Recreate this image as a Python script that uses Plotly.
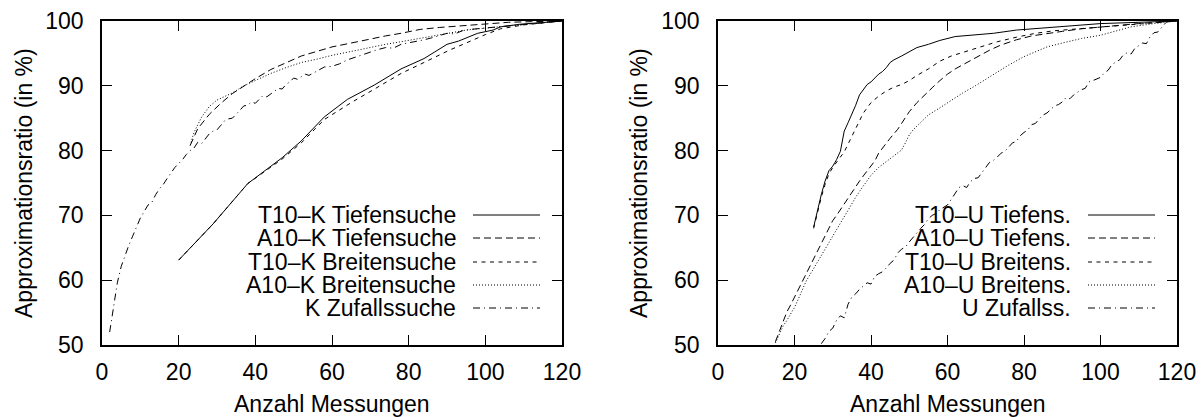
import plotly.graph_objects as go

# ---------------- data: left panel (K) ----------------
k_t10_tief_x = [20, 29, 38, 47, 52, 58, 64, 71, 78, 84, 90, 93, 98, 102, 104, 109, 120]
k_t10_tief_y = [63.1, 68.7, 74.9, 78.9, 81.5, 85.2, 87.9, 90.1, 92.6, 94.2, 96.4, 96.9, 98.1, 98.6, 99.1, 99.5, 100.0]

k_a10_tief_x = [23, 25, 28, 31, 34, 37, 40, 44, 48, 52, 56, 60, 65, 69, 74, 78, 83, 88, 94, 100, 106, 112, 120]
k_a10_tief_y = [80.8, 83.4, 85.6, 87.3, 88.8, 90.0, 91.1, 92.5, 93.6, 94.6, 95.3, 96.0, 96.6, 97.1, 97.7, 98.1, 98.7, 99.0, 99.3, 99.6, 99.8, 99.9, 100.0]

k_t10_breit_x = [20, 29, 38, 47, 52, 58, 65, 71, 78, 84, 91, 95, 100, 104, 110, 120]
k_t10_breit_y = [63.1, 68.7, 74.9, 78.7, 81.2, 84.8, 87.4, 89.5, 91.9, 93.6, 95.6, 96.6, 97.9, 98.8, 99.4, 100.0]

k_a10_breit_x = [23, 24, 26, 28, 30, 32, 34, 37, 40, 44, 48, 52, 56, 60, 65, 69, 74, 78, 83, 87, 91, 95, 100, 104, 110, 120]
k_a10_breit_y = [80.8, 82.8, 85.2, 86.8, 87.8, 88.4, 88.9, 90.0, 90.8, 91.9, 92.8, 93.6, 94.1, 94.7, 95.3, 95.8, 96.4, 96.8, 97.3, 97.8, 98.2, 98.6, 98.9, 99.1, 99.5, 100.0]

k_zuf_x = [2, 3, 4, 5, 6, 7, 8, 9, 10, 11, 12, 13, 14, 15, 16, 17, 18, 19, 20, 21, 22, 23, 24, 25,
           26, 27, 28, 29, 30, 31, 32, 33, 34, 35, 36, 37, 38, 39, 40, 41, 42, 43, 44, 45, 46, 47,
           48, 49, 50, 51, 52, 53, 54, 56, 58, 60, 62, 64, 66, 68, 70, 72, 74, 76, 78, 80, 82, 84,
           86, 88, 90, 92, 94, 96, 98, 100, 104, 108, 112, 116, 120]
k_zuf_y = [52.0, 56.2, 59.6, 62.1, 63.9, 65.4, 66.8, 68.3, 69.6, 70.6, 71.6, 72.0, 73.2, 74.1, 74.8,
           75.7, 76.6, 77.4, 78.0, 78.6, 79.4, 80.0, 80.4, 81.3, 81.1, 81.9, 82.6, 83.0, 83.2, 83.9,
           84.6, 84.9, 85.0, 85.6, 86.2, 86.9, 87.0, 87.5, 87.3, 87.9, 88.5, 88.3, 88.7, 89.1, 89.6,
           89.5, 90.2, 90.6, 91.2, 91.0, 91.4, 91.8, 91.6, 92.2, 92.9, 93.0, 93.4, 94.0, 94.4, 94.8,
           95.3, 95.6, 95.9, 95.8, 96.4, 96.6, 96.9, 97.1, 97.4, 97.8, 98.1, 98.0, 98.5, 98.7, 98.8,
           99.0, 99.2, 99.4, 99.6, 99.8, 100.0]

# ---------------- data: right panel (U) ----------------
u_t10_tief_x = [25, 26, 27, 28, 29, 30, 31, 32, 33, 34, 35, 36, 37, 38, 39, 40, 41, 42, 43, 44, 45, 46,
                48, 50, 52, 55, 58, 62, 66, 72, 78, 84, 90, 96, 100, 110, 120]
u_t10_tief_y = [68.2, 70.8, 73.2, 75.3, 76.9, 77.6, 78.6, 79.9, 83.0, 84.3, 85.6, 87.0, 88.6, 89.4, 90.2,
                90.6, 91.2, 91.8, 92.2, 92.8, 93.6, 94.0, 94.6, 95.3, 95.9, 96.4, 97.0, 97.6, 97.8, 98.1,
                98.6, 98.9, 99.2, 99.5, 99.6, 99.8, 100.0]

u_a10_tief_x = [15, 16, 17, 18, 19, 20, 21, 22, 23, 24, 25, 26, 27, 28, 29, 30, 31, 32, 33, 34, 35, 36,
                37, 38, 39, 40, 41, 42, 43, 44, 45, 46, 47, 48, 49, 50, 52, 54, 56, 58, 60, 62, 65, 68,
                71, 74, 78, 82, 86, 90, 95, 100, 110, 120]
u_a10_tief_y = [50.5, 52.0, 53.8, 55.1, 56.2, 57.4, 58.6, 59.8, 60.8, 62.0, 63.3, 64.4, 65.6, 66.9, 68.1,
                69.2, 70.0, 70.9, 71.9, 72.7, 73.5, 74.4, 75.3, 76.1, 76.9, 77.6, 78.4, 79.6, 80.4, 81.2,
                81.9, 82.6, 83.3, 84.2, 85.2, 86.0, 87.4, 88.6, 89.7, 90.8, 91.8, 92.6, 93.6, 94.6, 95.5,
                96.3, 97.1, 97.7, 98.1, 98.4, 98.8, 99.1, 99.6, 100.0]

u_t10_breit_x = [25, 26, 27, 28, 29, 30, 31, 32, 33, 34, 35, 36, 37, 38, 39, 40, 42, 44, 46, 48, 50, 52,
                 55, 58, 61, 65, 69, 73, 78, 83, 88, 94, 100, 106, 112, 120]
u_t10_breit_y = [68.0, 70.5, 72.8, 74.8, 76.4, 77.4, 78.3, 79.0, 79.8, 81.0, 82.2, 83.6, 84.8, 85.8, 86.6,
                 87.4, 88.4, 89.2, 89.8, 90.2, 90.8, 91.6, 92.6, 93.8, 94.6, 95.3, 96.0, 96.8, 97.5, 98.1,
                 98.5, 98.8, 99.0, 99.3, 99.6, 100.0]

u_a10_breit_x = [15, 16, 17, 18, 19, 20, 21, 22, 23, 24, 25, 26, 27, 28, 29, 30, 31, 32, 33, 34, 35, 36,
                 37, 38, 39, 40, 42, 44, 46, 48, 49, 50, 51, 53, 55, 58, 61, 64, 67, 70, 73, 76, 80, 83,
                 86, 90, 95, 100, 104, 108, 114, 120]
u_a10_breit_y = [50.3, 51.5, 52.9, 53.8, 54.7, 55.8, 57.1, 58.6, 59.8, 60.8, 61.8, 62.8, 63.9, 64.9, 65.9,
                 67.0, 68.0, 68.9, 69.9, 70.8, 71.8, 72.8, 73.7, 74.6, 75.4, 76.2, 77.4, 78.3, 79.1, 80.1,
                 81.2, 82.4, 83.2, 84.4, 85.5, 86.6, 87.8, 88.9, 89.9, 91.0, 92.1, 93.2, 94.5, 95.3, 96.0,
                 96.6, 97.3, 97.8, 98.5, 99.1, 99.6, 100.0]

u_zuf_x = list(range(27, 118))
u_zuf_y = [50.2, 51.0, 52.1, 52.6, 53.8, 54.5, 54.2, 56.3, 57.4, 57.9, 58.6, 59.1, 59.6, 59.4, 60.6,
           61.0, 61.3, 61.9, 62.6, 63.1, 64.2, 64.8, 65.1, 65.9, 66.6, 67.4, 68.0, 68.6, 69.5, 70.0,
           70.3, 70.9, 71.3, 71.6, 72.5, 73.4, 74.3, 74.6, 74.3, 75.2, 75.7, 75.8, 76.7, 77.4, 78.2,
           78.5, 79.0, 79.6, 79.9, 80.6, 81.2, 81.4, 82.3, 82.8, 83.2, 84.0, 84.2, 84.9, 85.5, 85.8,
           86.4, 86.9, 87.1, 87.5, 88.2, 88.0, 88.6, 89.0, 89.4, 89.6, 90.6, 90.8, 91.1, 91.3, 92.0,
           92.4, 93.3, 93.6, 94.0, 94.8, 95.1, 94.9, 95.8, 96.2, 96.6, 96.5, 97.6, 98.2, 98.3, 99.0,
           99.7]

left_names = ["T10\u2013K Tiefensuche", "A10\u2013K Tiefensuche", "T10\u2013K Breitensuche",
              "A10\u2013K Breitensuche", "K Zufallssuche"]
right_names = ["T10\u2013U Tiefens.", "A10\u2013U Tiefens.", "T10\u2013U Breitens.",
               "A10\u2013U Breitens.", "U Zufallss."]
x_ticks = [0, 20, 40, 60, 80, 100, 120]
y_ticks = [50, 60, 70, 80, 90, 100]
x_title = "Anzahl Messungen"
y_title = "Approximationsratio (in %)"

# ---------------- styling ----------------
W, H = 1204, 417
FONT = "Liberation Sans, Arial, Helvetica, sans-serif"
FS = 23
FS_LEG = 23
dashes = ["solid", "7px,4px", "4px,4.5px", "1px,2px", "7px,4px,1px,4px"]

fig = go.Figure()

left_series = [(k_t10_tief_x, k_t10_tief_y), (k_a10_tief_x, k_a10_tief_y),
               (k_t10_breit_x, k_t10_breit_y), (k_a10_breit_x, k_a10_breit_y),
               (k_zuf_x, k_zuf_y)]
right_series = [(u_t10_tief_x, u_t10_tief_y), (u_a10_tief_x, u_a10_tief_y),
                (u_t10_breit_x, u_t10_breit_y), (u_a10_breit_x, u_a10_breit_y),
                (u_zuf_x, u_zuf_y)]

for (xs, ys), name, d in zip(left_series, left_names, dashes):
    fig.add_trace(go.Scatter(x=xs, y=ys, mode="lines", name=name, xaxis="x", yaxis="y",
                             line=dict(color="black", width=1, dash=d), showlegend=False))
for (xs, ys), name, d in zip(right_series, right_names, dashes):
    fig.add_trace(go.Scatter(x=xs, y=ys, mode="lines", name=name, xaxis="x2", yaxis="y2",
                             line=dict(color="black", width=1, dash=d), showlegend=False))

# plot area in pixels
L1, R1 = 102, 562
L2, R2 = 718, 1177
TOP, BOT = 21, 345


def px(x):
    return x / W


def py(y):
    return 1 - y / H


def xaxis(dom, anchor):
    return dict(domain=dom, range=[0, 120], tickvals=x_ticks, showgrid=False, zeroline=False,
                showline=True, mirror="ticks", linecolor="black", linewidth=1.6,
                ticks="inside", ticklen=10, tickwidth=1, tickcolor="black", anchor=anchor,
                automargin=False, fixedrange=True,
                tickfont=dict(family=FONT, size=FS, color="black"), ticklabelstandoff=6)


def yaxis(anchor):
    return dict(domain=[py(BOT), py(TOP)], range=[50, 100], tickvals=y_ticks, showgrid=False,
                zeroline=False, showline=True, mirror="ticks", linecolor="black", linewidth=1.6,
                ticks="inside", ticklen=10, tickwidth=1, tickcolor="black", anchor=anchor,
                automargin=False, fixedrange=True,
                tickfont=dict(family=FONT, size=FS, color="black"), ticklabelstandoff=12)


annotations = []
shapes = []
rows = [215, 238, 262, 285, 308]
for (text_right, s0, s1, names) in [(458, 473, 540, left_names), (1073, 1088, 1155, right_names)]:
    for yy, name, d in zip(rows, names, dashes):
        annotations.append(dict(xref="paper", yref="paper", x=px(text_right), y=py(yy),
                                text=name, showarrow=False, xanchor="right", yanchor="middle",
                                font=dict(family=FONT, size=FS_LEG, color="black")))
        shapes.append(dict(type="line", xref="paper", yref="paper", x0=px(s0), x1=px(s1),
                           y0=py(yy), y1=py(yy), line=dict(color="black", width=1, dash=d)))

for cx in [(L1 + R1) / 2, (L2 + R2) / 2]:
    annotations.append(dict(xref="paper", yref="paper", x=px(cx), y=py(404), text=x_title,
                            showarrow=False, xanchor="center", yanchor="middle",
                            font=dict(family=FONT, size=FS, color="black")))
for cx in [24, 639]:
    annotations.append(dict(xref="paper", yref="paper", x=px(cx), y=py((TOP + BOT) / 2),
                            text=y_title, showarrow=False, textangle=-90,
                            xanchor="center", yanchor="middle",
                            font=dict(family=FONT, size=FS, color="black")))

fig.update_layout(
    width=W, height=H, autosize=False,
    margin=dict(l=0, r=0, t=0, b=0, pad=0),
    paper_bgcolor="white", plot_bgcolor="white",
    xaxis=xaxis([px(L1), px(R1)], "y"), yaxis=yaxis("x"),
    xaxis2=xaxis([px(L2), px(R2)], "y2"), yaxis2=yaxis("x2"),
    annotations=annotations, shapes=shapes, showlegend=False,
)

fig.write_html("out.html", config={"displayModeBar": False})
